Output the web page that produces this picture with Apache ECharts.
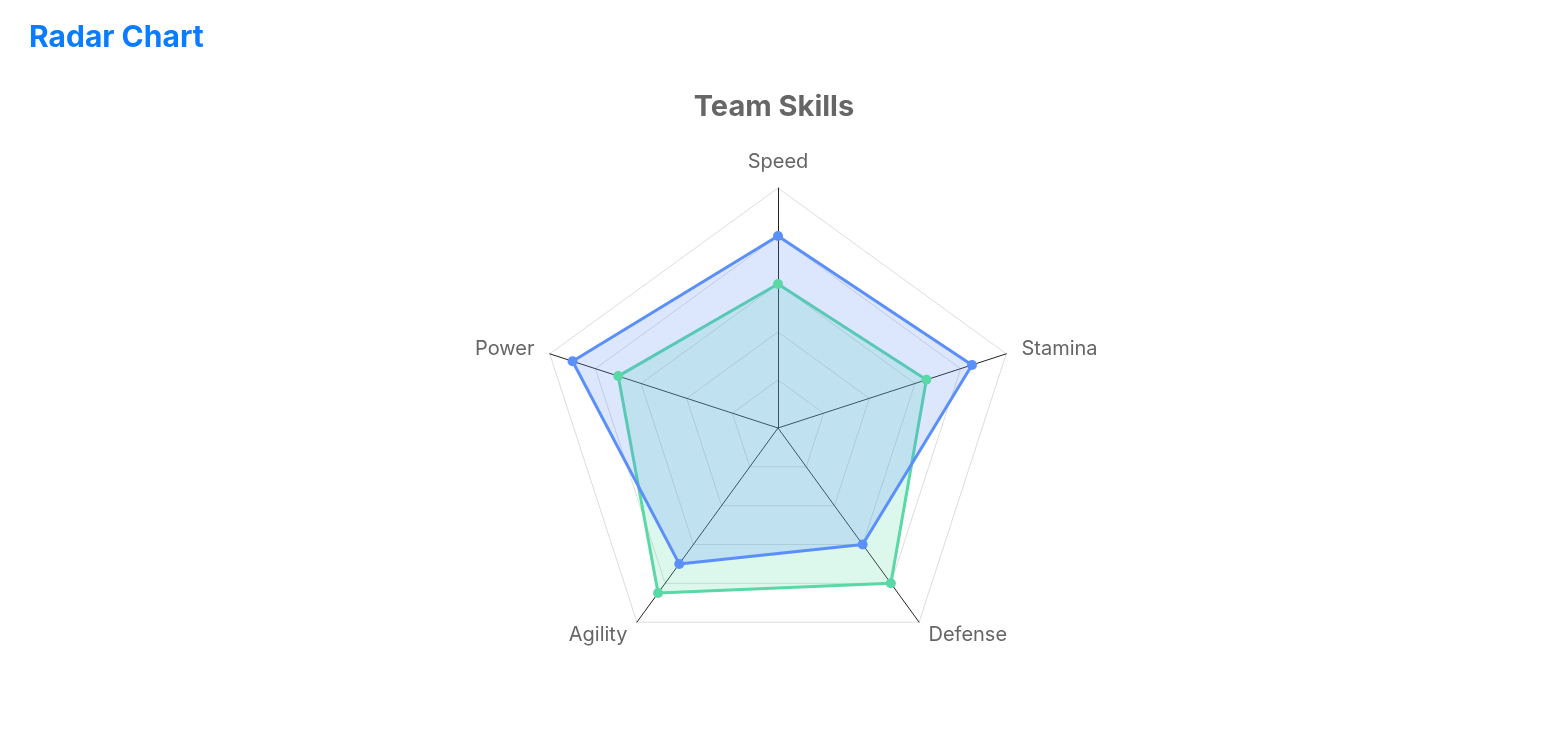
<!DOCTYPE html>
<html><head><meta charset="utf-8">
<script src="https://cdn.jsdelivr.net/npm/echarts@6/dist/echarts.min.js"></script>
<style>html,body{margin:0;padding:0;background:#fff}#c{width:1548px;height:744px}</style>
</head><body><div id="c"></div>
<script>
const indicators = ['Speed','Power','Agility','Defense','Stamina'];
const maxValue = 100;
const teamA = [80, 90, 70, 60, 85];
const teamB = [60, 70, 85, 80, 65];
const chart = echarts.init(document.getElementById('c'));
chart.setOption({
  title: [
    {text:'Radar Chart', left:24, top:18, textStyle:{color:'#0a7cff', fontSize:30, fontWeight:'bold', fontFamily:'Inter'}},
    {text:'Team Skills', left:'center', top:88, textStyle:{color:'#666', fontSize:29, fontWeight:'bold', fontFamily:'Inter'}}
  ],
  radar: {
    center:[778,428], radius:240, splitNumber:5, startAngle:90,
    indicator: indicators.map(n=>({name:n, max:maxValue})),
    axisName:{color:'#666', fontSize:20, fontFamily:'Inter'},
    nameGap:16,
    axisLine:{lineStyle:{color:'#222'}},
    splitLine:{lineStyle:{color:'#ddd'}},
    splitArea:{show:false}
  },
  series:[{
    type:'radar', symbol:'circle', symbolSize:10,
    data:[
      {value:teamB, name:'Team B', itemStyle:{color:'#5ad8a6'}, lineStyle:{width:3,color:'#5ad8a6'}, areaStyle:{color:'rgba(90,216,166,0.3)'}},
      {value:teamA, name:'Team A', itemStyle:{color:'#5b8ff9'}, lineStyle:{width:3,color:'#5b8ff9'}, areaStyle:{color:'rgba(91,143,249,0.3)'}}
    ]
  }]
});
</script></body></html>
